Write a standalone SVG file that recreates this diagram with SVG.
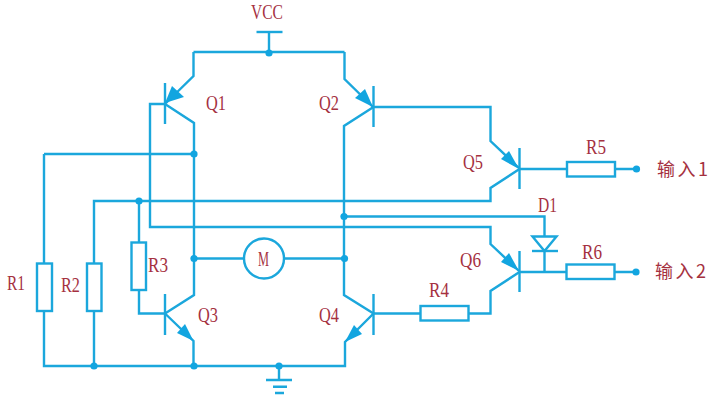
<svg xmlns="http://www.w3.org/2000/svg" width="717" height="401" viewBox="0 0 717 401">
<style>
.w{fill:none;stroke:#1ba7dc;stroke-width:2.4;stroke-linejoin:miter}
.r{fill:#fff;stroke:#1ba7dc;stroke-width:2.4}
.d{fill:#12a5e0}
.a{fill:#12a5e0}
text{font-family:"Liberation Serif","Noto Sans CJK SC",serif;font-size:22px;fill:#a5313f}
text.c{font-family:"Noto Sans CJK SC","Liberation Serif",sans-serif;font-size:18px}
</style>
<defs><circle id="dot" r="3.6" class="d"/></defs>
<rect width="717" height="401" fill="#fff"/>
<g id="connectors">
<path class="w" d="M269 32V52M193.5 52H344.5"/>
<path class="w" d="M193.5 52V76L165 104M165 104L194 123V295L165 313.5"/>
<path class="w" d="M165 104H150V227H490.5V244L519 271"/>
<path class="w" d="M44 154H194M44 154V366H279"/>
<path class="w" d="M94 366V201H490.5V188L519.5 169"/>
<path class="w" d="M139 201V313.5H165M165 313.5L193.5 341V366"/>
<path class="w" d="M344.5 52V79L373 107M373.5 107L344 126V295L373.5 313.5L345 342V366H279"/>
<path class="w" d="M373.5 107H490.5V141L519 168"/>
<path class="w" d="M373.5 313.5H490.5V291L519.5 272"/>
<path class="w" d="M194 258.5H344"/>
<path class="w" d="M344 216.5H544.5V272"/>
<path class="w" d="M519.5 169H636"/>
<path class="w" d="M519.5 272H636"/>
<path class="w" d="M279 366V380"/>
</g>
<g id="VCC"><path class="w" d="M256.5 32H282.5"/><text x="251" y="19" textLength="32" lengthAdjust="spacingAndGlyphs">VCC</text></g>
<g id="Q1"><path class="w" d="M165 83V124"/><polygon class="a" points="165,103 172,86 184,97"/><text x="206" y="110" textLength="20" lengthAdjust="spacingAndGlyphs">Q1</text></g>
<g id="Q2"><path class="w" d="M373.5 86V127"/><polygon class="a" points="373,107 355,98 365,89"/><text x="319" y="110" textLength="20" lengthAdjust="spacingAndGlyphs">Q2</text></g>
<g id="Q3"><path class="w" d="M165 294V335"/><polygon class="a" points="193.5,341 177,333 185,324"/><text x="198" y="322" textLength="20" lengthAdjust="spacingAndGlyphs">Q3</text></g>
<g id="Q4"><path class="w" d="M373.5 294V335"/><polygon class="a" points="345,342 354,325 362,334"/><text x="319" y="322" textLength="20" lengthAdjust="spacingAndGlyphs">Q4</text></g>
<g id="Q5"><path class="w" d="M519.5 148V189"/><polygon class="a" points="519,169 501,159 509,151"/><text x="463" y="169" textLength="20" lengthAdjust="spacingAndGlyphs">Q5</text></g>
<g id="Q6"><path class="w" d="M519.5 251V292"/><polygon class="a" points="519,271 501,262 509,253"/><text x="460" y="267" textLength="21" lengthAdjust="spacingAndGlyphs">Q6</text></g>
<g id="R1"><rect class="r" x="37" y="263.5" width="15" height="47.5"/><text x="7" y="290" textLength="18" lengthAdjust="spacingAndGlyphs">R1</text></g>
<g id="R2"><rect class="r" x="87" y="263.5" width="14.5" height="47.5"/><text x="61" y="292" textLength="19" lengthAdjust="spacingAndGlyphs">R2</text></g>
<g id="R3"><rect class="r" x="131.5" y="242.5" width="14.5" height="47.5"/><text x="148" y="272" textLength="20" lengthAdjust="spacingAndGlyphs">R3</text></g>
<g id="R4"><rect class="r" x="420.5" y="306" width="48" height="14.5"/><text x="429" y="297" textLength="20" lengthAdjust="spacingAndGlyphs">R4</text></g>
<g id="R5"><rect class="r" x="567" y="162" width="48" height="14.5"/><text x="586" y="154" textLength="20" lengthAdjust="spacingAndGlyphs">R5</text></g>
<g id="R6"><rect class="r" x="566.5" y="264.5" width="48" height="14.5"/><text x="582" y="259" textLength="20" lengthAdjust="spacingAndGlyphs">R6</text></g>
<g id="M"><circle class="r" cx="264" cy="258.5" r="20"/><text x="258" y="266" textLength="11" lengthAdjust="spacingAndGlyphs" style="font-size:20px">M</text></g>
<g id="D1"><polygon class="r" points="532.5,236.5 556.5,236.5 544.5,251"/><path class="w" d="M532 251H558"/><text x="538" y="212" textLength="19" lengthAdjust="spacingAndGlyphs">D1</text></g>
<g id="ground"><path class="w" d="M266 380H292M273 386.7H287M275 393H284"/></g>
<g id="in1"><text class="c" x="657" y="176" textLength="51" lengthAdjust="spacing">输入1</text></g>
<g id="in2"><text class="c" x="655" y="278" textLength="51" lengthAdjust="spacing">输入2</text></g>
<g id="junctions">
<use href="#dot" x="269" y="53"/><use href="#dot" x="194" y="154"/><use href="#dot" x="139" y="201"/>
<use href="#dot" x="194" y="258.5"/><use href="#dot" x="344" y="216.5"/><use href="#dot" x="344.5" y="258.5"/>
<use href="#dot" x="94" y="366"/><use href="#dot" x="194" y="366"/><use href="#dot" x="279" y="366"/>
<use href="#dot" x="636.5" y="169"/><use href="#dot" x="636" y="272"/>
</g>
</svg>
